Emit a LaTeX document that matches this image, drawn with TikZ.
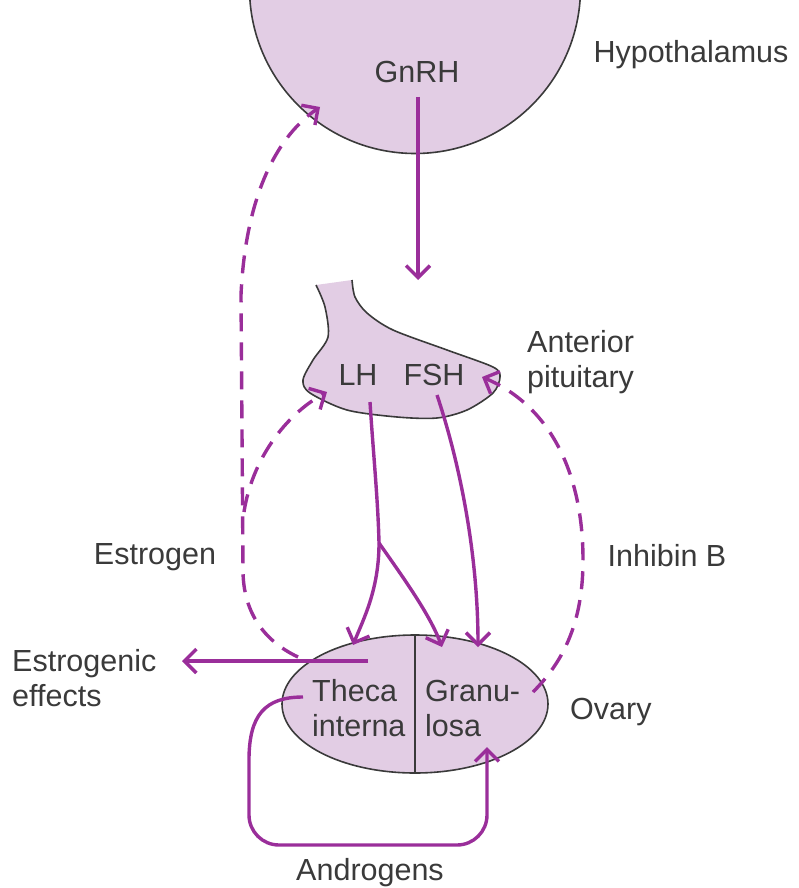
\documentclass[tikz,border=0pt]{standalone}
\usepackage{fontspec}
\setmainfont{Liberation Sans}
\usetikzlibrary{arrows.meta,shapes.geometric}
\definecolor{glandfill}{HTML}{E2CDE4}
\definecolor{hormone}{HTML}{9A2E9A}
\definecolor{textgray}{HTML}{3A3A3A}
\definecolor{edgegray}{HTML}{3A3A3A}
\tikzset{
  txt/.style={inner sep=0pt, text=textgray, font=\fontsize{30.5}{35}\selectfont},
  organ/.style={draw=edgegray, fill=glandfill, line width=1.6pt},
  signal/.style={draw=hormone, line width=3.4pt, -{Straight Barb[length=12pt,width=24pt]}},
  feedback/.style={signal, dash pattern=on 18pt off 11pt}
}
\begin{document}
\begin{tikzpicture}[x=1pt,y=-1pt]
        \useasboundingbox (0,0) rectangle (799,888);

        % Hipotalamo
        \begin{scope}
            \clip (0,0) rectangle (799,888);
            \draw[organ] (415,-12) circle (165.5);
        \end{scope}

        % Hipofisis anterior
        \draw[organ] plot[smooth] coordinates {(316,285) (325,307) (328,337) (313,360) (303,380) (310,393) (347,410) (397,417) (437,418) (467,410) (493,393) (500,377) (493,367) (447,350) (393,330) (367,313) (355,297) (352,280)};

        % Ovario
        \node[organ, ellipse, minimum width=266pt, minimum height=138pt] (ovary) at (415,704) {};
        \draw[edgegray, line width=1.6pt] (ovary.north) -- (ovary.south);

        % Textos
        \node[txt] (hypo) at (691,55) {Hypothalamus};
        \node[txt] (gnrh) at (417,72) {GnRH};
        \node[txt] (lh) at (358,375) {LH};
        \node[txt] (fsh) at (434,375) {FSH};
        \node[txt, anchor=west, align=left] (antpit) at (527,362) {Anterior\\pituitary};
        \node[txt] (estrogen) at (155,557) {Estrogen};
        \node[txt] (inhibin) at (667,556) {Inhibin B};
        \node[txt, anchor=west, align=left] (effects) at (12,678) {Estrogenic\\effects};
        \node[txt, anchor=west, align=left] (theca) at (312,708) {Theca\\interna};
        \node[txt, anchor=west, align=left] (granulosa) at (425,708) {Granu-\\losa};
        \node[txt, anchor=west] (ovarylbl) at (570,712) {Ovary};
        \node[txt] (androgens) at (370,873) {Androgens};

        % Extremos de las flechas
        \coordinate (gnrhout) at (418,97);
        \coordinate (pitin) at (418,280);
        \coordinate (lhout) at (370,402);
        \coordinate (fork) at (379,543);
        \coordinate (thecain) at (353,645);
        \coordinate (granin) at (442,647);
        \coordinate (fshout) at (437,395);
        \coordinate (fshin) at (478,647);
        \coordinate (estout) at (298,657);
        \coordinate (estsplit) at (244,512);
        \coordinate (hypoin) at (320,107);
        \coordinate (pitleft) at (327,392);
        \coordinate (inhout) at (533,692);
        \coordinate (pitright) at (482,377);
        \coordinate (effout) at (368,661);
        \coordinate (effin) at (182,661);
        \coordinate (andout) at (303,697);
        \coordinate (andin) at (487,747);

        % Flechas continuas
        \draw[signal] (gnrhout) -- (pitin);
        \draw[signal, -] (lhout) .. controls (373,450) and (378,500) .. (fork);
        \draw[signal] (fork) .. controls (379,590) and (363,620) .. (thecain);
        \draw[signal] (fork) .. controls (405,580) and (430,615) .. (granin);
        \draw[signal] (fshout) .. controls (462,470) and (478,560) .. (fshin);
        \draw[signal] (effout) -- (effin);
        \draw[signal] (andout) .. controls (265,697) and (249,715) .. (249,760)
            [rounded corners=30pt] -- (249,845) -- (487,845) -- (andin);

        % Retroalimentacion
        \draw[feedback] (estout) .. controls (262,640) and (243,610) .. (243,570)
            -- (241,295) .. controls (245,205) and (272,140) .. (hypoin);
        \draw[feedback] (estsplit) .. controls (252,460) and (285,415) .. (pitleft);
        \draw[feedback] (inhout) .. controls (565,660) and (583,620) .. (583,560)
            .. controls (583,470) and (548,405) .. (pitright);
    \end{tikzpicture}
\end{document}
